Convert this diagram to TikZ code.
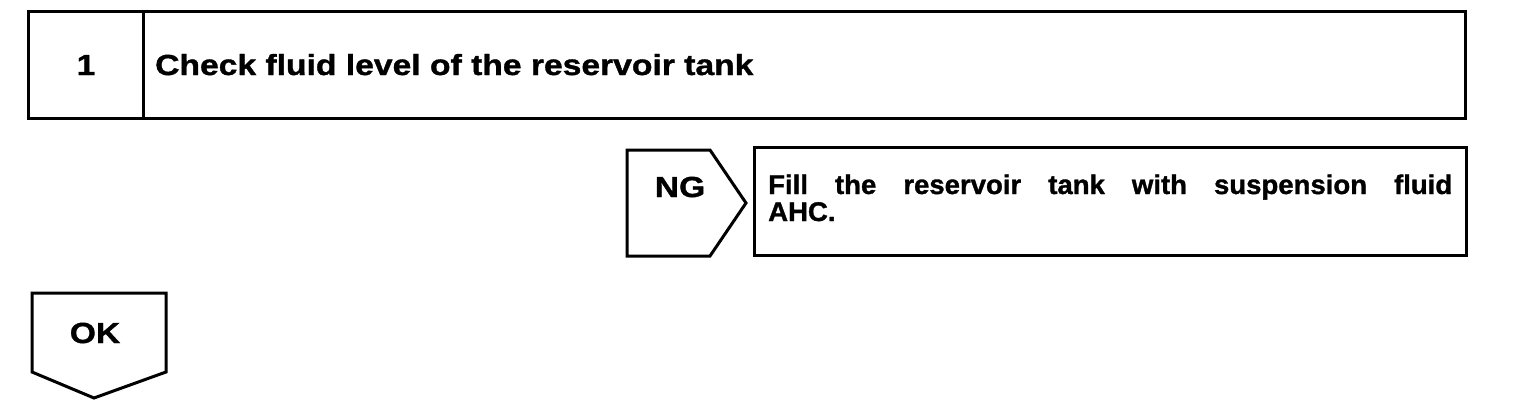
\documentclass[tikz,border=0pt]{standalone}
\usepackage{fontspec}
\setmainfont{Liberation Sans}
\newfontfamily\hb[FakeStretch=1.16,FakeBold=1.2]{Liberation Sans}
\newfontfamily\hn[FakeStretch=1.02,FakeBold=1.2]{Liberation Sans}
\begin{document}
\begin{tikzpicture}[x=1pt,y=-1pt,
  frame/.style={draw=black,line width=3pt,line join=miter},
  lbl/.style={inner sep=0pt,font=\hb\fontsize{29}{26}\selectfont\bfseries},
  actlbl/.style={inner sep=0pt,font=\hn\fontsize{27}{26}\selectfont\bfseries}]
\useasboundingbox (0,0) rectangle (1536,412);
% step box
\draw[frame] (28,12) rectangle (1465,118);
\draw[frame] (143,12) -- (143,118);
\node[lbl,anchor=base] (num) at (86,75) {1};
\node[lbl,anchor=base west] (title) at (155,75) {Check fluid level of the reservoir tank};
% NG tag
\draw[frame] (627,150) -- (710,150) -- (746,203) -- (710,256) -- (627,256) -- cycle;
\node[lbl,anchor=base] (ng) at (680,197) {NG};
% action box
\draw[frame] (754,147) rectangle (1466,255);
\node[actlbl,anchor=base west] (act) at (768,194)
  {\makebox[684pt][s]{Fill the reservoir tank with suspension fluid}};
\node[actlbl,anchor=base west] (act2) at (768,221) {AHC.};
% OK tag
\draw[frame] (32,293) -- (166,293) -- (166,372) -- (94,398) -- (32,372) -- cycle;
\node[lbl,anchor=base] (ok) at (95,343) {OK};
\end{tikzpicture}
\end{document}
